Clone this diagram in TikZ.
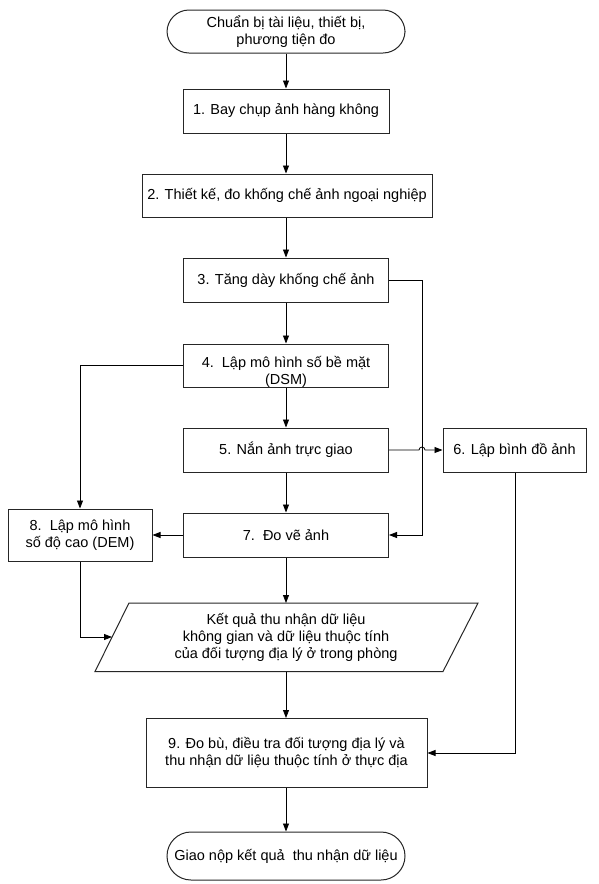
\documentclass[tikz,border=0pt]{standalone}
\usepackage{fontspec}
\setmainfont{Liberation Sans}
\usetikzlibrary{arrows.meta}
\tikzset{
  txt/.style={font=\fontsize{14.5}{17}\selectfont, align=center, inner sep=0pt},
  box/.style={txt, draw=black!85, line width=1pt, minimum width=#1, minimum height=44pt},
  term/.style={txt, draw=black!85, line width=1pt, rounded corners=22pt, minimum width=238pt, minimum height=#1},
  arr/.style={line width=0.8pt, -{Triangle[length=8pt,width=6pt]}},
  ln/.style={line width=0.8pt}
}
\begin{document}
\begin{tikzpicture}[x=1pt,y=-1pt]
\useasboundingbox (0,0) rectangle (599,884);
\node[term=43pt] (t0) at (286,31.5) {Chuẩn bị tài liệu, thiết bị,\\phương tiện đo};
\node[box=206pt] (b1) at (286,111) {1. Bay chụp ảnh hàng không};
\node[box=290pt, minimum height=43pt] (b2) at (287,195.5) {2. Thiết kế, đo khống chế ảnh ngoại nghiệp};
\node[box=205pt] (b3) at (286,280) {3. Tăng dày khống chế ảnh};
\node[box=205pt, minimum height=43pt] (b4) at (286,365.5) {};
\node[txt] (b4t) at (286,372) {4.\ \ Lập mô hình số bề mặt\\(DSM)};
\node[box=205pt] (b5) at (286,450) {5. Nắn ảnh trực giao};
\node[box=143pt] (b6) at (514.5,450) {6. Lập bình đồ ảnh};
\node[box=205pt] (b7) at (286,535) {7.\ \ Đo vẽ ảnh};
\node[box=144pt, minimum height=52pt] (b8) at (80,535) {8.\ \ Lập mô hình\\số độ cao (DEM)};
\draw[line width=1pt, draw=black!85] (129,603) -- (478,603) -- (443,671.5) -- (95,671.5) -- cycle;
\node[txt] (p) at (286,637) {Kết quả thu nhận dữ liệu\\không gian và dữ liệu thuộc tính\\của đối tượng địa lý ở trong phòng};
\coordinate (pN) at (286,603);
\coordinate (pS) at (286,671.5);
\coordinate (pW) at (112,637);
\node[box=281pt, minimum height=69pt] (b9) at (286.5,753) {9. Đo bù, điều tra đối tượng địa lý và\\thu nhận dữ liệu thuộc tính ở thực địa};
\node[term=48pt, rounded corners=24pt] (t1) at (286,856) {Giao nộp kết quả\ \ thu nhận dữ liệu};
\coordinate (r3) at (422,280);
\coordinate (r7) at (422,535);
\coordinate (l4) at (80,365.5);
\coordinate (l8) at (80,637);
\coordinate (r6) at (515,753);
\coordinate (hop) at (419,450);
\draw[arr] (t0) -- (t0 |- b1.north);
\draw[arr] (b1) -- (b1 |- b2.north);
\draw[arr] (b1 |- b2.south) -- (b3);
\draw[arr] (b3) -- (b4);
\draw[arr] (b4) -- (b5);
\draw[arr] (b5) -- (b7);
\draw[arr] (b7) -- (pN);
\draw[arr] (pS) -- (pS |- b9.north);
\draw[arr] (pS |- b9.south) -- (t1);
\draw[arr] (b3.east) -- (r3) -- (r7) -- (b7.east);
\draw[arr] (b5.east) -- (hop) arc[start angle=180, end angle=360, radius=3] -- (b6.west);
\draw[arr] (b4.west) -- (l4) -- (b8.north);
\draw[arr] (b7.west) -- (b8.east);
\draw[arr] (b8.south) -- (l8) -- (pW);
\draw[arr] (b6.south -| r6) -- (r6) -- (b9.east);
\end{tikzpicture}
\end{document}
